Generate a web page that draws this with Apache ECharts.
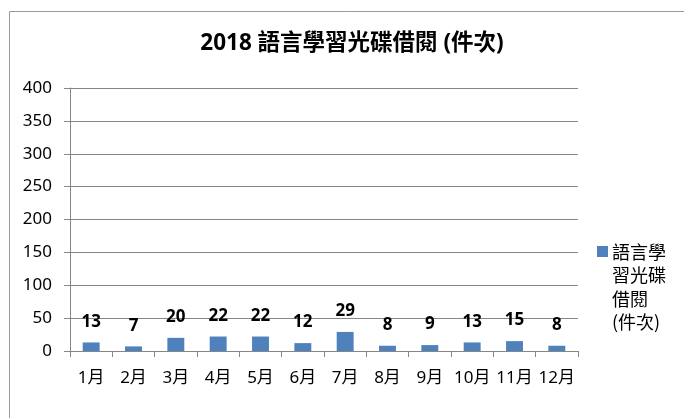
<!DOCTYPE html>
<html><head><meta charset="utf-8">
<script src="https://cdn.jsdelivr.net/npm/echarts@6/dist/echarts.min.js"></script>
<style>html,body{margin:0;padding:0;background:#fff}#c{width:684px;height:418px}</style>
</head><body><div id="c"></div>
<script>
const categories = ['1月','2月','3月','4月','5月','6月','7月','8月','9月','10月','11月','12月'];
const values = [13, 7, 20, 22, 22, 12, 29, 8, 9, 13, 15, 8];
const seriesName = '語言學習光碟借閱 (件次)';
const titleText = '2018 語言學習光碟借閱 (件次)';
const yTicks = [0, 50, 100, 150, 200, 250, 300, 350, 400];

const font = '"Noto Sans", "Noto Sans CJK TC", sans-serif';
const chart = echarts.init(document.getElementById('c'));
chart.setOption({
  animation: false,
  graphic: [{
    type: 'polyline', silent: true,
    shape: { points: [[9.5, 418], [9.5, 11.5], [684, 11.5]] },
    style: { stroke: '#9a9a9a', lineWidth: 1, fill: null }
  }, {
    type: 'rect', left: 597, top: 246, shape: { width: 11, height: 11 },
    style: { fill: '#4F81BD' }
  }, {
    type: 'text', left: 612, top: 240,
    style: { text: '語言學\n習光碟\n借閱\n(件次)', font: '18px "Noto Sans CJK TC", sans-serif', lineHeight: 23.5, fill: '#000' }
  }],
  title: {
    text: titleText, left: 347, top: 27, textAlign: 'center',
    textStyle: { fontSize: 22.5, fontWeight: 'bold', color: '#000', fontFamily: font }
  },
  grid: { left: 70, right: 106, top: 88, bottom: 67, containLabel: false },
  xAxis: {
    type: 'category', data: categories,
    axisLine: { lineStyle: { color: '#868686', width: 1 } },
    axisTick: { show: true, length: 6, lineStyle: { color: '#868686' } },
    axisLabel: { color: '#000', fontSize: 17, fontFamily: font, margin: 19, interval: 0 }
  },
  yAxis: {
    type: 'value', min: 0, max: 400, interval: 50,
    axisLine: { show: true, lineStyle: { color: '#868686', width: 1 } },
    axisTick: { show: true, length: 6, lineStyle: { color: '#868686' } },
    splitLine: { lineStyle: { color: '#868686', width: 1 } },
    axisLabel: { color: '#000', fontSize: 17, fontFamily: font, margin: 18,
      formatter: v => yTicks.includes(v) ? String(v) : '' }
  },
  series: [{
    name: seriesName, type: 'bar', data: values, barWidth: '40%',
    itemStyle: { color: '#4F81BD' },
    label: { show: true, position: 'top', distance: 12, color: '#000', fontSize: 17, fontWeight: 'bold', fontFamily: font }
  }]
});
</script></body></html>
